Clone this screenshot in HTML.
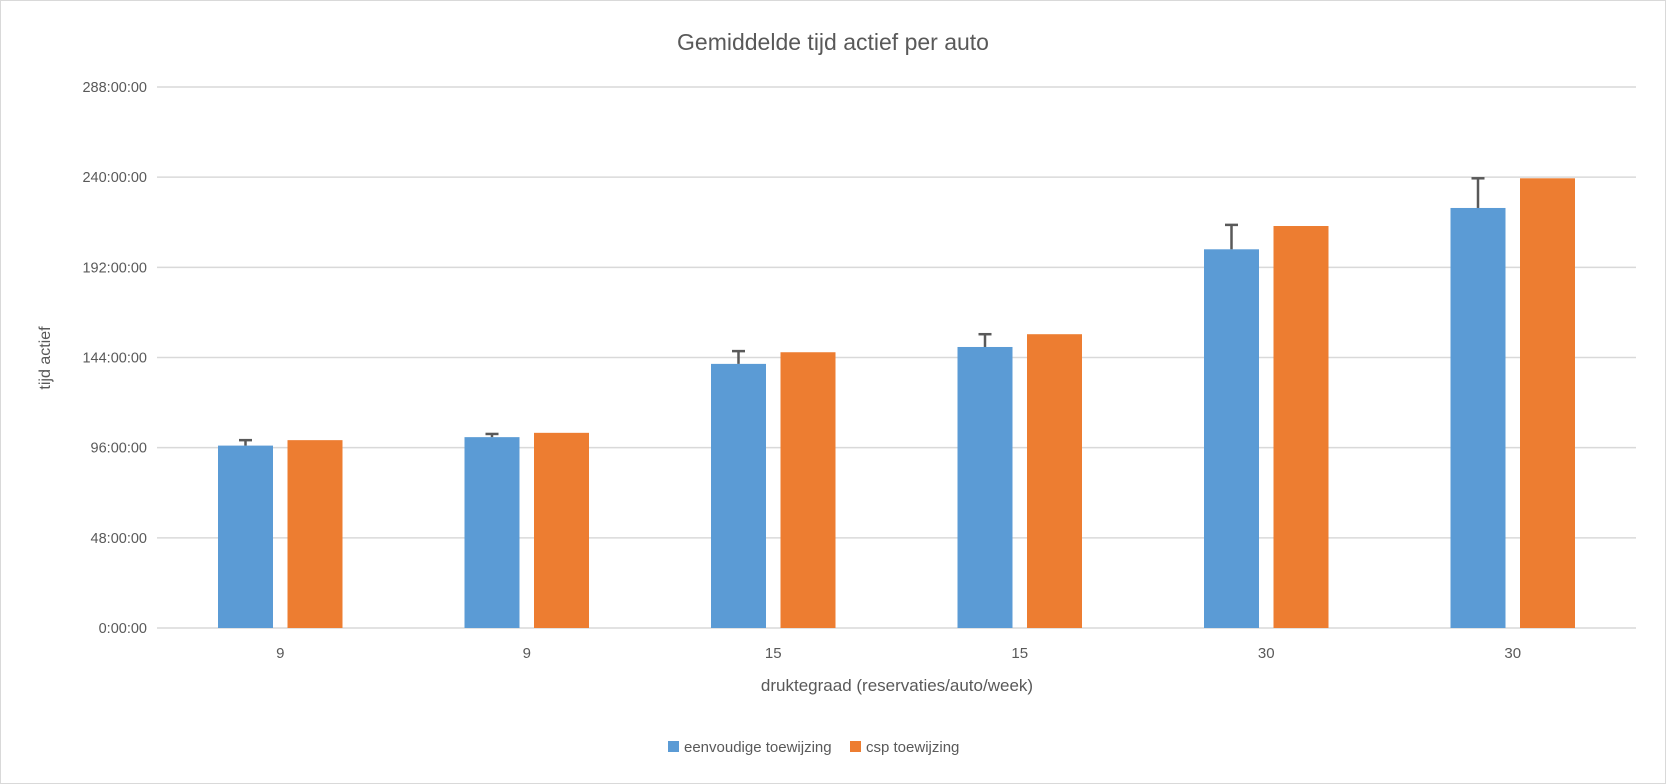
<!DOCTYPE html>
<html><head><meta charset="utf-8"><style>
body{margin:0;background:#fff}
svg{display:block;font-family:"Liberation Sans","DejaVu Sans",sans-serif}
</style></head><body>
<svg id="chart" width="1666" height="784">
<rect x="0.5" y="0.5" width="1665" height="783" fill="#fff" stroke="#d9d9d9"/>
<text x="833" y="50" text-anchor="middle" font-size="23" fill="#595959">Gemiddelde tijd actief per auto</text>
<g id="grid"></g><g id="bars"></g><g id="xl"></g>
<text x="0" y="0" transform="translate(50,358) rotate(-90)" text-anchor="middle" font-size="16" fill="#595959">tijd actief</text>
<text x="897" y="691" text-anchor="middle" font-size="17" fill="#595959">druktegraad (reservaties/auto/week)</text>
<g>
<rect x="668" y="741" width="11" height="11" fill="#5b9bd5"/>
<text x="684" y="752" font-size="15" fill="#595959">eenvoudige toewijzing</text>
<rect x="850" y="741" width="11" height="11" fill="#ed7d31"/>
<text x="866" y="752" font-size="15" fill="#595959">csp toewijzing</text>
</g>
</svg>
<script>
const categories=["9","9","15","15","30","30"];
const blueValues=[97.1,101.6,140.6,149.6,201.6,223.6];
const blueErr=[2.9,1.7,6.8,6.8,13,15.8];
const orangeValues=[100,103.9,146.8,156.4,214,239.4];
const yTicks=[0,48,96,144,192,240,288];
const yTickLabels=["0:00:00","48:00:00","96:00:00","144:00:00","192:00:00","240:00:00","288:00:00"];
const NS="http://www.w3.org/2000/svg";
const x0=157,x1=1636,y0=628,yTop=87,yMax=288;
const y=v=>y0-(v/yMax)*(y0-yTop);
const band=(x1-x0)/categories.length;
function mk(t,a,p){const e=document.createElementNS(NS,t);for(const k in a)e.setAttribute(k,a[k]);p.appendChild(e);return e;}
const grid=document.getElementById('grid');
yTicks.forEach((t,i)=>{
 const l=mk('line',{x1:x0,x2:x1,y1:y(t),y2:y(t),stroke:'#d9d9d9','stroke-width':1.5},grid);
 
 
 const tx=mk('text',{x:147,y:y(t)+5,'text-anchor':'end','font-size':14.5,fill:'#595959'},grid);
 tx.textContent=yTickLabels[i];
 
 
});
const bars=document.getElementById('bars'),xl=document.getElementById('xl');
const bw=55,gap=14.5;
categories.forEach((c,i)=>{
 const cx=x0+band*(i+0.5);
 const bx=cx-gap/2-bw, ox=cx+gap/2;
 const b=mk('rect',{x:bx,y:y(blueValues[i]),width:bw,height:y0-y(blueValues[i]),fill:'#5b9bd5'},bars);
 
 
 const o=mk('rect',{x:ox,y:y(orangeValues[i]),width:bw,height:y0-y(orangeValues[i]),fill:'#ed7d31'},bars);
 
 
 const ex=bx+bw/2, et=y(blueValues[i]+blueErr[i]);
 const e1=mk('line',{x1:ex,x2:ex,y1:y(blueValues[i]),y2:et,stroke:'#595959','stroke-width':2.5},bars);
 
 
 const e2=mk('line',{x1:ex-6.5,x2:ex+6.5,y1:et,y2:et,stroke:'#595959','stroke-width':2.5},bars);
 
 
 const t=mk('text',{x:cx,y:658,'text-anchor':'middle','font-size':15,fill:'#595959'},xl);
 t.textContent=c;
 
 
});
</script>
</body></html>
